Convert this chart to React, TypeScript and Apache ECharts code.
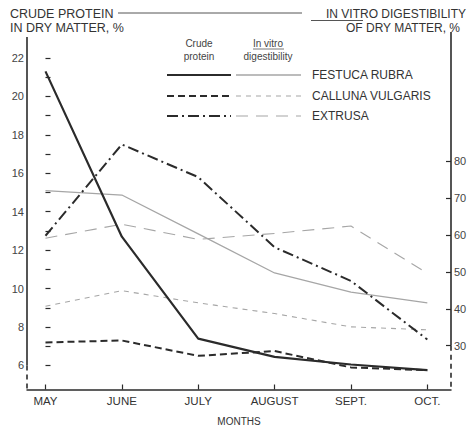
import React, { useEffect, useRef } from "react";
import * as echarts from "echarts";

const months = ["MAY", "JUNE", "JULY", "AUGUST", "SEPT.", "OCT."];
const monthIdx = [0, 1, 2, 3, 4, 5];

// Crude protein in dry matter, % (left axis)
const festucaCP = [21.3, 12.7, 7.4, 6.45, 6.05, 5.76];
const callunaCP = [7.2, 7.3, 6.5, 6.75, 5.9, 5.75];
const extrusaCP = [12.75, 17.5, 15.8, 12.15, 10.4, 7.35];

// In vitro digestibility of dry matter, % (right axis)
const festucaDig = [72, 70.8, 60.3, 49.7, 44.5, 41.6];
const callunaDig = [40.7, 44.9, 41.6, 38.7, 35.1, 34.3];
const extrusaDig = [59.1, 62.9, 58.8, 60.4, 62.4, 49.6];

const leftTicks = [6, 7, 8, 9, 10, 11, 12, 13, 14, 15, 16, 17, 18, 19, 20, 21, 22];
const leftLabels = [6, 8, 10, 12, 14, 16, 18, 20, 22];
const rightTicks = [30, 40, 50, 60, 70, 80];

const speciesNames = ["FESTUCA RUBRA", "CALLUNA VULGARIS", "EXTRUSA"];

const FONT = "'Liberation Sans', Arial, sans-serif";
const INK = "#2b2b2b";
const GREY = "#a6a6a6";

const cpStyles = [
  { type: "solid" as any, width: 2.2 },
  { type: [7, 4] as any, width: 2 },
  { type: [11, 4, 2, 4] as any, width: 2 },
];
const digStyles = [
  { type: "solid" as any, width: 1.3 },
  { type: [5, 5] as any, width: 1.1 },
  { type: [12, 8] as any, width: 1.1 },
];

const toPts = (vals: number[]) => monthIdx.map((i) => [i, vals[i]]);

export default function App() {
  const ref = useRef<HTMLDivElement>(null);
  useEffect(() => {
    if (!ref.current) return;
    const chart = echarts.init(ref.current, null, { renderer: "svg" });
    const cpData = [festucaCP, callunaCP, extrusaCP];
    const digData = [festucaDig, callunaDig, extrusaDig];
    const series: any[] = [];
    cpData.forEach((d, k) => {
      series.push({
        type: "line",
        name: speciesNames[k] + " CP",
        xAxisIndex: 0,
        yAxisIndex: 0,
        data: toPts(d),
        showSymbol: false,
        lineStyle: { color: INK, width: cpStyles[k].width, type: cpStyles[k].type },
        z: 3,
      });
    });
    digData.forEach((d, k) => {
      series.push({
        type: "line",
        name: speciesNames[k] + " DIG",
        xAxisIndex: 0,
        yAxisIndex: 1,
        data: toPts(d),
        showSymbol: false,
        lineStyle: { color: GREY, width: digStyles[k].width, type: digStyles[k].type },
        z: 2,
      });
    });

    chart.setOption({
      animation: false,
      textStyle: { fontFamily: FONT },
      grid: { left: 27, right: 18, top: 37, bottom: 39.5, containLabel: false, outerBoundsMode: "none" },
      xAxis: {
        type: "value",
        min: -0.242,
        max: 5.31,
        splitLine: { show: false },
        axisLine: { show: true, lineStyle: { color: INK, width: 1.5 } },
        axisTick: { show: true, inside: true, length: 5, customValues: monthIdx, lineStyle: { color: INK, width: 1.2 } },
        axisLabel: {
          customValues: monthIdx,
          formatter: (v: number) => months[Math.round(v)] ?? "",
          color: "#333",
          fontSize: 11.5,
          fontFamily: FONT,
          margin: 5,
        },
        name: "MONTHS",
        nameLocation: "middle",
        nameGap: 27,
        nameTextStyle: { color: "#333", fontSize: 10, fontFamily: FONT },
      },
      yAxis: [
        {
          type: "value",
          position: "left",
          min: 4.75,
          max: 23.09,
          splitLine: { show: false },
          axisLine: { show: false },
          axisTick: { show: true, inside: true, length: 5, customValues: leftTicks, lineStyle: { color: INK, width: 1.2 } },
          axisLabel: { customValues: leftLabels, color: "#444", fontSize: 11, fontFamily: FONT, margin: 3 },
        },
        {
          type: "value",
          position: "right",
          min: 18.14,
          max: 113.6,
          splitLine: { show: false },
          axisLine: { show: false },
          axisTick: { show: true, inside: true, length: 5, customValues: rightTicks, lineStyle: { color: INK, width: 1.2 } },
          axisLabel: { customValues: rightTicks, color: "#444", fontSize: 11, fontFamily: FONT, margin: 3 },
        },
      ],
      series,
    });

    // axis lines (solid above the lowest labelled tick, broken below it)
    const xL = chart.convertToPixel({ xAxisIndex: 0 }, -0.242) as number;
    const xR = chart.convertToPixel({ xAxisIndex: 0 }, 5.31) as number;
    const yTop = chart.convertToPixel({ yAxisIndex: 0 }, 23.09) as number;
    const yBot = chart.convertToPixel({ yAxisIndex: 0 }, 4.75) as number;
    const y6 = chart.convertToPixel({ yAxisIndex: 0 }, leftLabels[0]) as number;
    const y30 = chart.convertToPixel({ yAxisIndex: 1 }, rightTicks[0]) as number;

    const axisLine = (x1: number, y1: number, x2: number, y2: number, dashed: boolean) => ({
      type: "line",
      shape: { x1, y1, x2, y2 },
      style: { stroke: INK, lineWidth: 1.6, lineDash: dashed ? [5, 4] : null },
      silent: true,
      z: 10,
    });

    const txt = (text: string, x: number, y: number, size: number, align = "left", fill = "#333") => ({
      type: "text",
      x,
      y,
      style: { text, fontSize: size, fontFamily: FONT, fill, align, verticalAlign: "middle" },
      silent: true,
      z: 10,
    });

    const legendRows = [75, 96, 116];
    const legendEls: any[] = [];
    legendRows.forEach((ly, k) => {
      legendEls.push({
        type: "line",
        shape: { x1: 167, y1: ly, x2: 231, y2: ly },
        style: { stroke: INK, lineWidth: cpStyles[k].width, lineDash: Array.isArray(cpStyles[k].type) ? cpStyles[k].type : null },
        silent: true,
        z: 10,
      });
      legendEls.push({
        type: "line",
        shape: { x1: 236, y1: ly, x2: 301, y2: ly },
        style: { stroke: GREY, lineWidth: digStyles[k].width, lineDash: Array.isArray(digStyles[k].type) ? digStyles[k].type : null },
        silent: true,
        z: 10,
      });
      legendEls.push(txt(speciesNames[k], 312, ly, 12, "left", "#333"));
    });

    chart.setOption({
      graphic: [
        axisLine(xL, yTop, xL, y6, false),
        axisLine(xL, y6, xL, yBot, true),
        axisLine(xR, 32, xR, y30, false),
        axisLine(xR, y30, xR, yBot, true),
        txt("CRUDE PROTEIN", 10, 14, 12.5),
        txt("IN DRY MATTER, %", 10, 28, 12.5),
        { type: "line", shape: { x1: 118, y1: 13, x2: 302, y2: 13 }, style: { stroke: "#555", lineWidth: 1 }, silent: true },
        txt("IN VITRO DIGESTIBILITY", 466, 14, 12, "right"),
        { type: "line", shape: { x1: 311, y1: 20.5, x2: 363, y2: 20.5 }, style: { stroke: "#555", lineWidth: 1 }, silent: true },
        txt("OF DRY MATTER, %", 460, 28, 12, "right"),
        txt("Crude", 199, 43, 10, "center", "#444"),
        txt("protein", 199, 56, 10, "center", "#444"),
        txt("In vitro", 268, 43, 10, "center", "#444"),
        { type: "line", shape: { x1: 253, y1: 49, x2: 284, y2: 49 }, style: { stroke: "#555", lineWidth: 0.8 }, silent: true },
        txt("digestibility", 268, 56, 10, "center", "#444"),
        ...legendEls,
      ],
    });

    return () => chart.dispose();
  }, []);
  return <div ref={ref} style={{ position: "fixed", left: 0, top: 0, width: 469, height: 429, background: "#fff" }} />;
}
